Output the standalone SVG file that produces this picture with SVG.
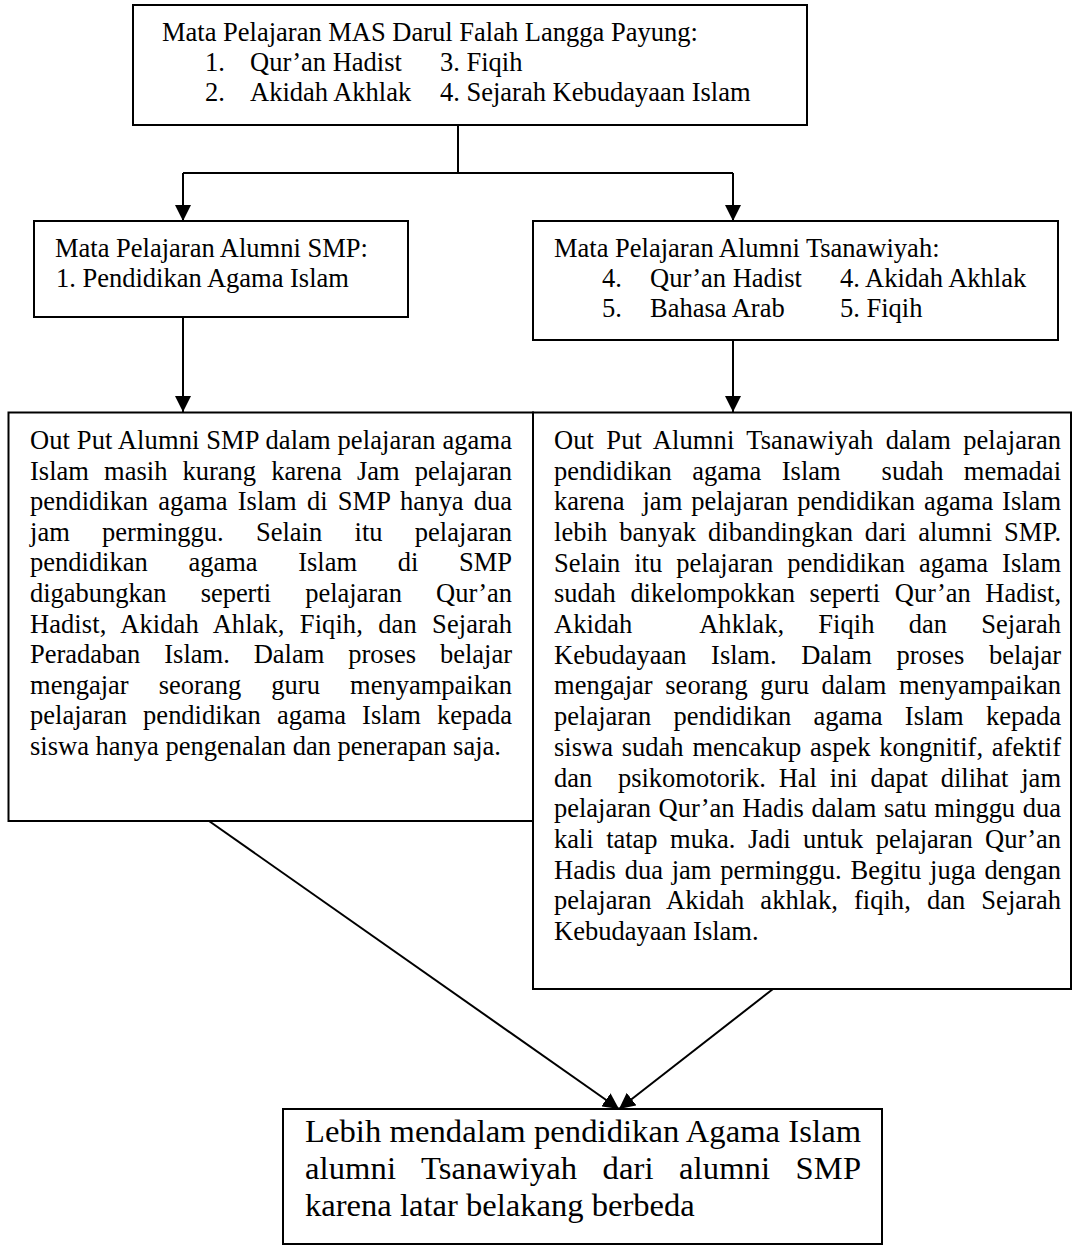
<svg xmlns="http://www.w3.org/2000/svg" width="1074" height="1247" viewBox="0 0 1074 1247">
<style>
.box{fill:#fff;stroke:#000;stroke-width:2}
.t{font-family:"Liberation Serif","Times New Roman",serif;font-size:26.5px;fill:#000}
.b{font-family:"Liberation Serif","Times New Roman",serif;font-size:32.6px;fill:#000}
.pre{white-space:pre}
.ln{fill:none;stroke:#000;stroke-width:2}
</style>
<defs>
<marker id="arr" viewBox="0 0 16 16" refX="16" refY="8" markerWidth="16" markerHeight="16" markerUnits="userSpaceOnUse" orient="auto">
<path d="M0,0 L16,8 L0,16 z" fill="#000"/>
</marker>
</defs>
<rect width="1074" height="1247" fill="#fff"/>

<g id="connectors">
<polyline class="ln" points="458,125 458,173"/>
<polyline class="ln" points="183,173 733,173"/>
<line class="ln" x1="183" y1="173" x2="183" y2="221" marker-end="url(#arr)"/>
<line class="ln" x1="733" y1="173" x2="733" y2="221" marker-end="url(#arr)"/>
<line class="ln" x1="183" y1="317" x2="183" y2="412" marker-end="url(#arr)"/>
<line class="ln" x1="733" y1="340" x2="733" y2="412" marker-end="url(#arr)"/>
<line class="ln" x1="209" y1="821" x2="619" y2="1109" marker-end="url(#arr)"/>
<line class="ln" x1="773" y1="989" x2="619" y2="1109" marker-end="url(#arr)"/>
</g>

<g id="node-top">
<rect class="box" x="133" y="5" width="674" height="120"/>
<text class="t" x="162" y="40.5">Mata Pelajaran MAS Darul Falah Langga Payung:</text>
<text class="t" x="205" y="71">1.</text>
<text class="t" x="250" y="71">Qur’an Hadist</text>
<text class="t" x="440" y="71">3. Fiqih</text>
<text class="t" x="205" y="101">2.</text>
<text class="t" x="250" y="101">Akidah Akhlak</text>
<text class="t" x="440" y="101">4. Sejarah Kebudayaan Islam</text>
</g>

<g id="node-smp">
<rect class="box" x="34" y="221" width="374" height="96"/>
<text class="t" x="55" y="257">Mata Pelajaran Alumni SMP:</text>
<text class="t" x="56" y="287">1. Pendidikan Agama Islam</text>
</g>

<g id="node-tsanawiyah">
<rect class="box" x="533" y="221" width="525" height="119"/>
<text class="t" x="554" y="257">Mata Pelajaran Alumni Tsanawiyah:</text>
<text class="t" x="602" y="287">4.</text>
<text class="t" x="650" y="287">Qur’an Hadist</text>
<text class="t" x="840" y="287">4. Akidah Akhlak</text>
<text class="t" x="602" y="317">5.</text>
<text class="t" x="650" y="317">Bahasa Arab</text>
<text class="t" x="840" y="317">5. Fiqih</text>
</g>

<g id="node-output-smp">
<rect class="box" x="8.5" y="412.5" width="524.5" height="408.5"/>
<text class="t" x="30" y="449" textLength="482" lengthAdjust="spacing">Out Put Alumni SMP dalam pelajaran agama</text>
<text class="t" x="30" y="479.6" textLength="482" lengthAdjust="spacing" style="word-spacing:8.5px">Islam masih kurang karena Jam pelajaran</text>
<text class="t" x="30" y="510.2" textLength="482" lengthAdjust="spacing" style="word-spacing:3.5px">pendidikan agama Islam di SMP hanya dua</text>
<text class="t" x="30" y="540.8" textLength="482" lengthAdjust="spacing" style="word-spacing:25.7px">jam perminggu. Selain itu pelajaran</text>
<text class="t" x="30" y="571.4" textLength="482" lengthAdjust="spacing" style="word-spacing:34px">pendidikan agama Islam di SMP</text>
<text class="t" x="30" y="602" textLength="482" lengthAdjust="spacing" style="word-spacing:27.5px">digabungkan seperti pelajaran Qur’an</text>
<text class="t" x="30" y="632.6" textLength="482" lengthAdjust="spacing" style="word-spacing:8.7px">Hadist, Akidah Ahlak, Fiqih, dan Sejarah</text>
<text class="t" x="30" y="663.2" textLength="482" lengthAdjust="spacing" style="word-spacing:17.3px">Peradaban Islam. Dalam proses belajar</text>
<text class="t" x="30" y="693.8" textLength="482" lengthAdjust="spacing" style="word-spacing:23.5px">mengajar seorang guru menyampaikan</text>
<text class="t" x="30" y="724.4" textLength="482" lengthAdjust="spacing" style="word-spacing:9.4px">pelajaran pendidikan agama Islam kepada</text>
<text class="t" x="30" y="755">siswa hanya pengenalan dan penerapan saja.</text>
</g>

<g id="node-output-tsanawiyah">
<rect class="box" x="533" y="412.5" width="538" height="576.5"/>
<text class="t" x="554" y="449" textLength="507" lengthAdjust="spacing" style="word-spacing:5.6px">Out Put Alumni Tsanawiyah dalam pelajaran</text>
<text class="t pre" x="554" y="479.7" textLength="507" lengthAdjust="spacing" style="word-spacing:13.8px">pendidikan agama Islam  sudah memadai</text>
<text class="t pre" x="554" y="510.4" textLength="507" lengthAdjust="spacing" style="word-spacing:2.3px">karena  jam pelajaran pendidikan agama Islam</text>
<text class="t" x="554" y="541" textLength="507" lengthAdjust="spacing" style="word-spacing:5.1px">lebih banyak dibandingkan dari alumni SMP.</text>
<text class="t" x="554" y="571.7" textLength="507" lengthAdjust="spacing" style="word-spacing:7.3px">Selain itu pelajaran pendidikan agama Islam</text>
<text class="t" x="554" y="602.4" textLength="507" lengthAdjust="spacing" style="word-spacing:8.1px">sudah dikelompokkan seperti Qur’an Hadist,</text>
<text class="t pre" x="554" y="633.1" textLength="507" lengthAdjust="spacing" style="word-spacing:27.5px">Akidah  Ahklak, Fiqih dan Sejarah</text>
<text class="t" x="554" y="663.8" textLength="507" lengthAdjust="spacing" style="word-spacing:18px">Kebudayaan Islam. Dalam proses belajar</text>
<text class="t" x="554" y="694.4" textLength="507" lengthAdjust="spacing" style="word-spacing:6px">mengajar seorang guru dalam menyampaikan</text>
<text class="t" x="554" y="725.1" textLength="507" lengthAdjust="spacing" style="word-spacing:15.6px">pelajaran pendidikan agama Islam kepada</text>
<text class="t" x="554" y="755.8" textLength="507" lengthAdjust="spacing" style="word-spacing:2.2px">siswa sudah mencakup aspek kongnitif, afektif</text>
<text class="t pre" x="554" y="786.5" textLength="507" lengthAdjust="spacing" style="word-spacing:6.2px">dan  psikomotorik. Hal ini dapat dilihat jam</text>
<text class="t" x="554" y="817.2" textLength="507" lengthAdjust="spacing" style="word-spacing:1.1px">pelajaran Qur’an Hadis dalam satu minggu dua</text>
<text class="t" x="554" y="847.8" textLength="507" lengthAdjust="spacing" style="word-spacing:5.9px">kali tatap muka. Jadi untuk pelajaran Qur’an</text>
<text class="t" x="554" y="878.5" textLength="507" lengthAdjust="spacing" style="word-spacing:2.2px">Hadis dua jam perminggu. Begitu juga dengan</text>
<text class="t" x="554" y="909.2" textLength="507" lengthAdjust="spacing" style="word-spacing:9.4px">pelajaran Akidah akhlak, fiqih, dan Sejarah</text>
<text class="t" x="554" y="939.9">Kebudayaan Islam.</text>
</g>

<g id="node-conclusion">
<rect class="box" x="283" y="1109" width="599" height="135"/>
<text class="b" x="305" y="1142" textLength="556" lengthAdjust="spacing">Lebih mendalam pendidikan Agama Islam</text>
<text class="b" x="305" y="1179" textLength="556" lengthAdjust="spacing" style="word-spacing:17.2px">alumni Tsanawiyah dari alumni SMP</text>
<text class="b" x="305" y="1216">karena latar belakang berbeda</text>
</g>
</svg>
